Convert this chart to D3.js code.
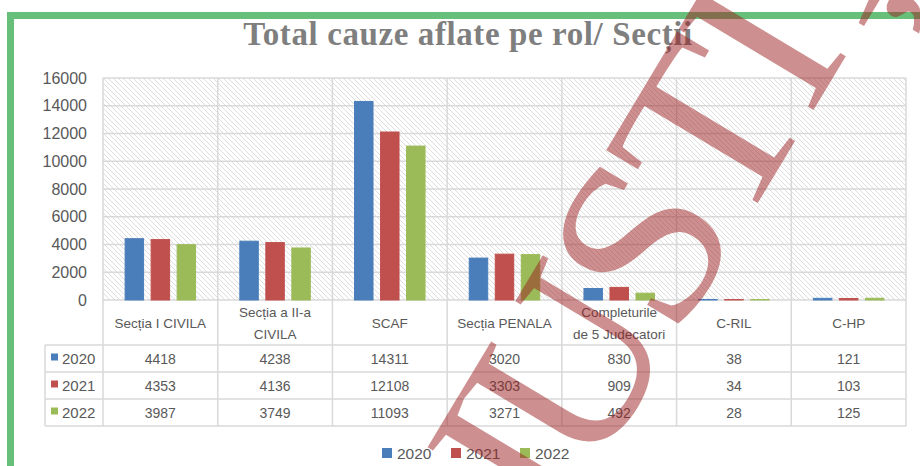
<!DOCTYPE html>
<html>
<head>
<meta charset="utf-8">
<script src="https://cdn.jsdelivr.net/npm/d3@7"></script>
<style>
  body { margin: 0; background: #fff; }
  svg { display: block; }
</style>
</head>
<body>
<script>
// date ("\n" = rand nou in eticheta)
const categories = ["Secția I CIVILA", "Secția a II-a\nCIVILA", "SCAF", "Secția PENALA",
                    "Completurile\nde 5 Judecatori", "C-RIL", "C-HP"];
const years = ["2020", "2021", "2022"];
const values2020 = [4418, 4238, 14311, 3020, 830, 38, 121];
const values2021 = [4353, 4136, 12108, 3303, 909, 34, 103];
const values2022 = [3987, 3749, 11093, 3271, 492, 28, 125];
const yTicks = [0, 2000, 4000, 6000, 8000, 10000, 12000, 14000, 16000];
const colors = ["#4a7ebb", "#c0504d", "#9bbb59"];

const series = [values2020, values2021, values2022];

const W = 920, H = 466;
const L = 103, R = 906, T = 78, B = 300;
const keyLeft = 45, headBottom = 345, rowH = 27;
const tableBottom = headBottom + rowH * years.length;
const gridColor = "#d9d9d9", textColor = "#595959";

const svg = d3.select("body").append("svg")
    .attr("width", W).attr("height", H)
    .style("font-family", "'Liberation Sans', Arial, sans-serif");

// fundal hasurat
const defs = svg.append("defs");
defs.append("pattern")
    .attr("id", "hatch")
    .attr("patternUnits", "userSpaceOnUse")
    .attr("width", 5).attr("height", 5)
    .append("path")
    .attr("d", "M0,0 L5,5 M-1,4 L1,6 M4,-1 L6,1")
    .attr("stroke", "#d6d6d6")
    .attr("stroke-width", 0.8);

// rama verde
svg.append("rect")
    .attr("x", 10.5).attr("y", 15.5)
    .attr("width", 1000).attr("height", 1000)
    .attr("fill", "none")
    .attr("stroke", "#67bf7a")
    .attr("stroke-width", 7);

// titlu
svg.append("text")
    .attr("x", 468).attr("y", 45)
    .attr("text-anchor", "middle")
    .attr("font-family", "'Liberation Serif', 'DejaVu Serif', serif")
    .attr("font-weight", "bold")
    .attr("font-size", 33)
    .attr("letter-spacing", 0.6)
    .attr("fill", "#7f7f7f")
    .text("Total cauze aflate pe rol/ Secții");

// scale
const x0 = d3.scaleBand().domain(categories).range([L, R]).padding(0);
const x1 = d3.scaleBand().domain(years).range([0, x0.bandwidth()])
    .paddingInner(0.29).paddingOuter(0.85);
const y = d3.scaleLinear().domain([0, 16000]).range([B, T]);

svg.append("rect")
    .attr("x", L).attr("y", T)
    .attr("width", R - L).attr("height", B - T)
    .attr("fill", "url(#hatch)");

// grila orizontala
svg.append("g").selectAll("line")
    .data(yTicks)
    .enter().append("line")
    .attr("x1", L).attr("x2", R)
    .attr("y1", d => y(d)).attr("y2", d => y(d))
    .attr("stroke", gridColor).attr("stroke-width", 1.5);

// axa y
const yAxis = svg.append("g")
    .attr("transform", "translate(" + (L - 16) + ",0)")
    .call(d3.axisLeft(y).tickValues(yTicks).tickFormat(d3.format("d"))
        .tickSize(0).tickPadding(0));
yAxis.select(".domain").remove();
yAxis.selectAll("text")
    .attr("font-family", "'Liberation Sans', Arial, sans-serif")
    .attr("font-size", 16)
    .attr("fill", textColor);

// bare
const groups = svg.append("g").selectAll("g")
    .data(categories)
    .enter().append("g")
    .attr("transform", d => "translate(" + x0(d) + ",0)");

groups.selectAll("rect")
    .data((d, i) => series.map((s, k) => ({ year: years[k], value: s[i], k: k })))
    .enter().append("rect")
    .attr("x", d => x1(d.year))
    .attr("width", x1.bandwidth())
    .attr("y", d => y(d.value))
    .attr("height", d => B - y(d.value))
    .attr("fill", d => colors[d.k])
    .attr("stroke", d => colors[d.k])
    .attr("stroke-width", 1);

// tabel de date
const bounds = categories.map(c => x0(c)).concat([R]);
svg.append("g").selectAll("line")
    .data(bounds)
    .enter().append("line")
    .attr("x1", d => d).attr("x2", d => d)
    .attr("y1", T).attr("y2", tableBottom)
    .attr("stroke", gridColor).attr("stroke-width", 1.5);

const rowLines = [headBottom, headBottom + rowH, headBottom + 2 * rowH, tableBottom];
svg.append("g").selectAll("line")
    .data(rowLines)
    .enter().append("line")
    .attr("x1", keyLeft).attr("x2", R)
    .attr("y1", d => d).attr("y2", d => d)
    .attr("stroke", gridColor).attr("stroke-width", 1.5);

svg.append("line")
    .attr("x1", keyLeft).attr("x2", keyLeft)
    .attr("y1", headBottom).attr("y2", tableBottom)
    .attr("stroke", gridColor).attr("stroke-width", 1.5);

// etichete categorii
const catText = svg.append("g").selectAll("text")
    .data(categories)
    .enter().append("text")
    .attr("text-anchor", "middle")
    .attr("font-size", 13.5)
    .attr("fill", textColor);

catText.each(function(d) {
  const t = d3.select(this);
  const cx = x0(d) + x0.bandwidth() / 2;
  const lines = d.split("\n");
  const mid = (B + headBottom) / 2 + 5;
  lines.forEach((ln, i) => {
    t.append("tspan")
      .attr("x", cx)
      .attr("y", mid + (i - (lines.length - 1) / 2) * 22)
      .text(ln);
  });
});

// randurile cu valori
years.forEach((yr, k) => {
  const cy = headBottom + rowH * k + rowH / 2 + 5;
  svg.append("rect")
      .attr("x", 51).attr("y", cy - 10)
      .attr("width", 7).attr("height", 7)
      .attr("fill", colors[k]);
  svg.append("text")
      .attr("x", 62).attr("y", cy)
      .attr("font-size", 15)
      .attr("fill", textColor)
      .text(yr);
  svg.append("g").selectAll("text")
      .data(series[k])
      .enter().append("text")
      .attr("x", (d, i) => x0(categories[i]) + x0.bandwidth() / 2)
      .attr("y", cy)
      .attr("text-anchor", "middle")
      .attr("font-size", 14)
      .attr("fill", textColor)
      .text(d => d);
});

// legenda
const legend = svg.append("g").attr("transform", "translate(382,453)");
const items = legend.selectAll("g")
    .data(years)
    .enter().append("g")
    .attr("transform", (d, i) => "translate(" + i * 69 + ",0)");
items.append("rect")
    .attr("x", 0).attr("y", -5)
    .attr("width", 10).attr("height", 10)
    .attr("fill", (d, i) => colors[i]);
items.append("text")
    .attr("x", 15).attr("y", 6)
    .attr("font-size", 15.5)
    .attr("fill", textColor)
    .text(d => d);

// filigran
svg.append("text")
    .attr("transform", "translate(548,552) rotate(-59)")
    .attr("font-family", "'Liberation Serif', 'DejaVu Serif', serif")
    .attr("font-size", 240)
    .attr("letter-spacing", -10)
    .attr("fill", "#9b2020")
    .attr("fill-opacity", 0.5)
    .text("JUSTIȚIE");
</script>
</body>
</html>
